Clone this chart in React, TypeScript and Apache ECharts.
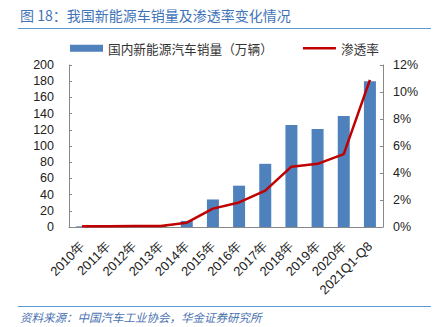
import React, { useEffect, useRef } from "react";
import * as echarts from "echarts";

const categories = ["2010年", "2011年", "2012年", "2013年", "2014年", "2015年", "2016年", "2017年", "2018年", "2019年", "2020年", "2021Q1-Q8"];
const sales = [0.8, 0.8, 1.3, 1.8, 7.5, 34, 51, 78, 126, 121, 137, 180];
const penetration = [0.05, 0.06, 0.07, 0.08, 0.32, 1.36, 1.82, 2.7, 4.47, 4.68, 5.4, 10.9];
const leftTicks = { min: 0, max: 200, interval: 20 };
const rightTicks = { min: 0, max: 12, interval: 2 };

export default function App() {
  const ref = useRef<HTMLDivElement>(null);
  useEffect(() => {
    const chart = echarts.init(ref.current!, null, { renderer: "svg" });
    const font = "'Liberation Sans', Arial, sans-serif";
    const cjk = "'Noto Sans CJK SC', sans-serif";
    chart.setOption({
      animation: false,
      textStyle: { fontFamily: font },
      grid: { left: 69, right: 56, top: 65, bottom: 100 },
      legend: {
        left: 65,
        top: 37,
        itemWidth: 33,
        itemHeight: 7,
        itemGap: 30,
        symbolKeepAspect: true,
        textStyle: { fontFamily: cjk, fontSize: 12.7, color: "#333" },
        data: [
          { name: "国内新能源汽车销量（万辆）", icon: "rect" },
          { name: "渗透率", icon: "path://M0,0H33V2.5H0Z" },
        ],
      },
      xAxis: {
        type: "category",
        data: categories,
        axisLine: { lineStyle: { color: "#888" } },
        axisTick: { inside: true, length: 4, lineStyle: { color: "#888" } },
        axisLabel: { rotate: 45, fontSize: 13, color: "#222", fontFamily: font, margin: 17, interval: 0 },
      },
      yAxis: [
        {
          type: "value",
          ...leftTicks,
          splitLine: { show: false },
          axisLine: { show: true, lineStyle: { color: "#888" } },
          axisTick: { show: true, inside: true, length: 3, lineStyle: { color: "#888" } },
          axisLabel: { fontSize: 12.5, color: "#222", margin: 15 },
        },
        {
          type: "value",
          ...rightTicks,
          splitLine: { show: false },
          axisLine: { show: true, lineStyle: { color: "#888" } },
          axisTick: { show: true, inside: true, length: 3, lineStyle: { color: "#888" } },
          axisLabel: { fontSize: 12.5, color: "#222", margin: 10, formatter: "{value}%" },
        },
      ],
      series: [
        {
          name: "国内新能源汽车销量（万辆）",
          type: "bar",
          data: sales,
          barWidth: 12,
          itemStyle: { color: "#4f81bd" },
        },
        {
          name: "渗透率",
          type: "line",
          yAxisIndex: 1,
          data: penetration,
          symbol: "none",
          lineStyle: { color: "#c00000", width: 2.5 },
          itemStyle: { color: "#c00000" },
        },
      ],
      graphic: [
        {
          type: "text",
          left: 20,
          top: 8,
          style: { text: "图 18：我国新能源车销量及渗透率变化情况", fontFamily: cjk, fontSize: 14, fill: "#3f74b8" },
        },
        {
          type: "line",
          shape: { x1: 18, y1: 28.5, x2: 431, y2: 28.5 },
          style: { stroke: "#5b9bd5", lineWidth: 1 },
        },
        {
          type: "line",
          shape: { x1: 18, y1: 306.5, x2: 431, y2: 306.5 },
          style: { stroke: "#5b9bd5", lineWidth: 1 },
        },
        {
          type: "text",
          left: 20,
          top: 311,
          style: { text: "资料来源：中国汽车工业协会，华金证券研究所", fontFamily: cjk, fontSize: 11.5, fontStyle: "italic", fill: "#4a72b0" },
        },
      ],
    });
    return () => chart.dispose();
  }, []);
  return <div ref={ref} style={{ width: 439, height: 327, position: "absolute", left: 0, top: 0 }} />;
}
